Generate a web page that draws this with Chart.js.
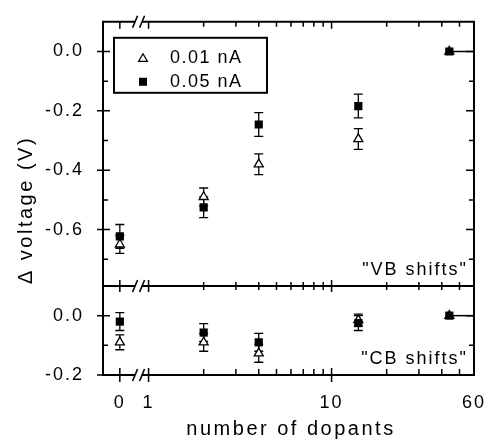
<!DOCTYPE html>
<html>
<head>
<meta charset="utf-8">
<script src="https://cdn.jsdelivr.net/npm/chart.js@4"></script>
<style>
  html, body { margin: 0; padding: 0; background: #fff; }
</style>
</head>
<body>
<canvas id="dopantChart" width="493" height="445"></canvas>
<script>
// values
const dopants = [0, 2, 4, 14, 44];
const vbLow = [-0.65, -0.49, -0.38, -0.295, 0];
const vbLowErr = [0.03, 0.03, 0.035, 0.035, 0];
const vbHigh = [-0.623, -0.525, -0.246, -0.184, 0];
const vbHighErr = [0.04, 0.035, 0.04, 0.04, 0];
const cbLow = [-0.09, -0.09, -0.127, -0.015, 0];
const cbLowErr = [0.025, 0.03, 0.03, 0.02, 0];
const cbHigh = [-0.02, -0.057, -0.09, -0.025, 0];
const cbHighErr = [0.03, 0.03, 0.03, 0.025, 0];
const refLine = [44, 60];

const xTickValues = [0, 1, 10, 60];
const xMinorValues = [2, 3, 4, 5, 6, 7, 8, 9, 20, 30, 40, 50];
const vbTicks = [0, -0.2, -0.4, -0.6];
const vbMinor = [-0.1, -0.3, -0.5, -0.7];
const cbTicks = [0, -0.2];
const cbMinor = [-0.1];
const legendLabels = ['0.01 nA', '0.05 nA'];

// broken x axis: 0 sits left of the break, the rest is log10
const ZERO_POS = -0.157;
function xPos(n) {
    return n === 0 ? ZERO_POS : Math.log10(n);
}

const FONT = '"Liberation Sans", Arial, Helvetica, sans-serif';
Chart.defaults.font.family = FONT;
Chart.defaults.font.size = 18;
Chart.defaults.color = '#000';

function pts(ys) {
    return dopants.map((d, i) => ({ x: xPos(d), y: ys[i] }));
}

function drawTriangle(ctx, x, y, r) {
    ctx.beginPath();
    ctx.moveTo(x, y - r);
    ctx.lineTo(x + r * 0.866, y + r * 0.5);
    ctx.lineTo(x - r * 0.866, y + r * 0.5);
    ctx.closePath();
    ctx.fillStyle = '#fff';
    ctx.fill();
    ctx.lineWidth = 1.3;
    ctx.stroke();
}

const errorBars = {
    id: 'errorBars',
    beforeDatasetsDraw(chart) {
        const ctx = chart.ctx;
        ctx.save();
        ctx.strokeStyle = '#000';
        ctx.lineWidth = 1.3;
        chart.data.datasets.forEach((ds, di) => {
            if (!ds.errs) return;
            const meta = chart.getDatasetMeta(di);
            const yScale = chart.scales[ds.yAxisID];
            meta.data.forEach((el, i) => {
                const e = ds.errs[i];
                if (!e) return;
                const v = ds.data[i].y;
                const top = yScale.getPixelForValue(v + e);
                const bot = yScale.getPixelForValue(v - e);
                ctx.beginPath();
                ctx.moveTo(el.x, top); ctx.lineTo(el.x, bot);
                ctx.moveTo(el.x - 4.5, top); ctx.lineTo(el.x + 4.5, top);
                ctx.moveTo(el.x - 4.5, bot); ctx.lineTo(el.x + 4.5, bot);
                ctx.stroke();
            });
        });
        ctx.restore();
    }
};

const frame = {
    id: 'frame',
    beforeDraw(chart) {
        chart.ctx.letterSpacing = '2px';
    },
    afterDraw(chart) {
        const { ctx, chartArea: a, scales } = chart;
        const xs = scales.x, yv = scales.yv, yc = scales.yc;
        const mid = Math.round(yv.bottom);
        ctx.save();
        ctx.strokeStyle = '#000';
        ctx.fillStyle = '#000';

        ctx.lineWidth = 2;
        ctx.beginPath();
        ctx.rect(a.left, a.top, a.right - a.left, a.bottom - a.top);
        ctx.moveTo(a.left, mid); ctx.lineTo(a.right, mid);
        ctx.stroke();

        ctx.lineWidth = 1.5;
        ctx.beginPath();
        const vt = (px, y, up, down) => { ctx.moveTo(px, y - up); ctx.lineTo(px, y + down); };
        const ht = (py, x, left, right) => { ctx.moveTo(x - left, py); ctx.lineTo(x + right, py); };
        xTickValues.forEach(v => {
            if (v === 60) return;
            const px = xs.getPixelForValue(xPos(v));
            vt(px, a.top, 0, 7);
            vt(px, mid, 6, 6);
            vt(px, a.bottom, 7, 7);
        });
        xMinorValues.forEach(v => {
            const px = xs.getPixelForValue(xPos(v));
            vt(px, a.top, 0, 5);
            vt(px, mid, 4, 4);
            vt(px, a.bottom, 6, 0);
        });
        [[yv, vbTicks, vbMinor], [yc, cbTicks, cbMinor]].forEach(([s, major, minor]) => {
            major.forEach(v => {
                const py = s.getPixelForValue(v);
                ht(py, a.left, 6, 7);
                ht(py, a.right, 8, 0);
            });
            minor.forEach(v => {
                const py = s.getPixelForValue(v);
                ht(py, a.left, 0, 5);
                ht(py, a.right, 5, 0);
            });
        });
        ctx.stroke();

        // axis breaks
        const bx = xs.getPixelForValue(xPos(1)) - 10;
        [a.top, mid, a.bottom].forEach(y => {
            ctx.fillStyle = '#fff';
            ctx.fillRect(bx - 3.5, y - 2, 7, 4);
            ctx.lineWidth = 1.6;
            ctx.beginPath();
            ctx.moveTo(bx - 6, y + 6); ctx.lineTo(bx - 1, y - 6);
            ctx.moveTo(bx + 1, y + 6); ctx.lineTo(bx + 6, y - 6);
            ctx.stroke();
        });

        // legend
        const lx = a.left + 11, ly = a.top + 16;
        ctx.fillStyle = '#fff';
        ctx.fillRect(lx, ly, 153, 55);
        ctx.lineWidth = 2;
        ctx.strokeRect(lx, ly, 153, 55);
        drawTriangle(ctx, lx + 29, ly + 21, 5);
        ctx.fillStyle = '#000';
        ctx.fillRect(lx + 25, ly + 40, 8, 8);
        ctx.font = '18px ' + FONT;
        ctx.letterSpacing = '1.5px';
        ctx.textAlign = 'left';
        ctx.textBaseline = 'middle';
        ctx.fillText(legendLabels[0], lx + 56, ly + 20);
        ctx.fillText(legendLabels[1], lx + 56, ly + 44);

        // panel labels
        ctx.font = '18px ' + FONT;
        ctx.letterSpacing = '2px';
        ctx.textAlign = 'right';
        ctx.fillText('"VB shifts"', a.right - 6, mid - 16);
        ctx.fillText('"CB shifts"', a.right - 6, a.bottom - 16);

        // axis titles
        ctx.font = '20px ' + FONT;
        ctx.letterSpacing = '2.5px';
        ctx.textAlign = 'center';
        ctx.fillText('number of dopants', 291, 429);
        ctx.translate(26, 210);
        ctx.rotate(-Math.PI / 2);
        ctx.fillText('Δ voltage (V)', 0, 0);
        ctx.restore();
    }
};

const markerStyle = {
    showLine: false,
    borderColor: '#000',
};

new Chart(document.getElementById('dopantChart'), {
    type: 'scatter',
    data: {
        datasets: [
            { ...markerStyle, data: pts(vbHigh), errs: vbHighErr, yAxisID: 'yv', pointStyle: 'rect', pointRadius: 5.8, backgroundColor: '#000', borderWidth: 0 },
            { ...markerStyle, data: pts(cbHigh), errs: cbHighErr, yAxisID: 'yc', pointStyle: 'rect', pointRadius: 5.8, backgroundColor: '#000', borderWidth: 0 },
            { ...markerStyle, data: pts(vbLow), errs: vbLowErr, yAxisID: 'yv', pointStyle: 'triangle', pointRadius: 5.2, backgroundColor: '#fff', borderWidth: 1.3 },
            { ...markerStyle, data: pts(cbLow), errs: cbLowErr, yAxisID: 'yc', pointStyle: 'triangle', pointRadius: 5.2, backgroundColor: '#fff', borderWidth: 1.3 },
            { data: refLine.map(d => ({ x: xPos(d), y: 0 })), yAxisID: 'yv', showLine: true, pointRadius: 0, borderColor: '#000', borderWidth: 1.5 },
            { data: refLine.map(d => ({ x: xPos(d), y: 0 })), yAxisID: 'yc', showLine: true, pointRadius: 0, borderColor: '#000', borderWidth: 1.5 },
        ],
    },
    options: {
        responsive: false,
        animation: false,
        layout: { padding: { top: 17, right: 15, left: 0, bottom: 0 } },
        plugins: {
            legend: { display: false },
            tooltip: { enabled: false },
        },
        scales: {
            x: {
                type: 'linear',
                min: -0.249,
                max: Math.log10(60),
                grid: { display: false },
                border: { display: false },
                afterBuildTicks: s => { s.ticks = xTickValues.map(v => ({ value: xPos(v) })); },
                afterFit: s => { s.height = 70; },
                ticks: {
                    padding: 9,
                    maxRotation: 0,
                    autoSkip: false,
                    callback: (v, i) => String(xTickValues[i]),
                },
            },
            // stacked left axes: the one defined last is placed on top
            yc: {
                type: 'linear',
                position: 'left',
                stack: 'panel',
                stackWeight: 0.3,
                min: -0.2,
                max: 0.1,
                grid: { display: false },
                border: { display: false },
                afterBuildTicks: s => { s.ticks = cbTicks.map(v => ({ value: v })); },
                afterFit: s => { s.width = 103; },
                ticks: { padding: 11, callback: v => v.toFixed(1) },
            },
            yv: {
                type: 'linear',
                position: 'left',
                stack: 'panel',
                stackWeight: 0.89,
                min: -0.79,
                max: 0.1,
                grid: { display: false },
                border: { display: false },
                afterBuildTicks: s => { s.ticks = vbTicks.map(v => ({ value: v })); },
                afterFit: s => { s.width = 103; },
                ticks: { padding: 11, callback: v => v.toFixed(1) },
            },
        },
    },
    plugins: [errorBars, frame],
});
</script>
</body>
</html>
